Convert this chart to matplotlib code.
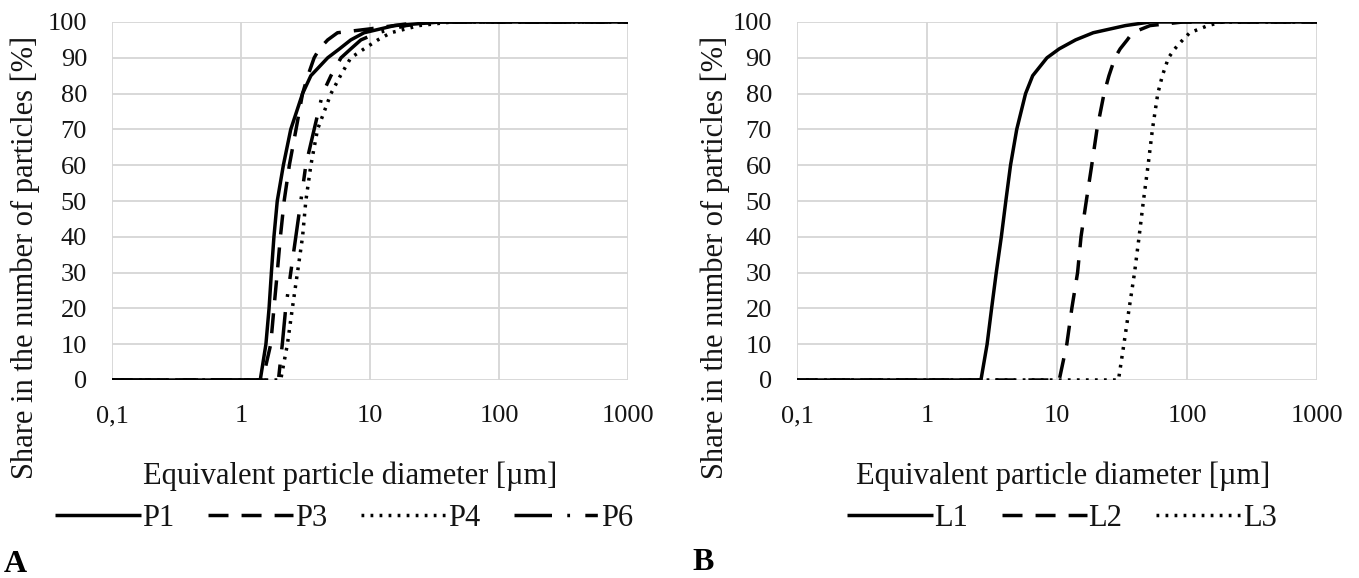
import numpy as np
import matplotlib
matplotlib.use("Agg")
import matplotlib.pyplot as plt

plt.rcParams['font.family'] = ['Liberation Serif', 'DejaVu Serif']
plt.rcParams['lines.scale_dashes'] = False

# panel A : P-samples  (diameter um, cumulative share %)
p1_x = [0.1, 1.41, 1.56, 1.65, 1.72, 1.80, 1.91, 2.13, 2.43, 3.0, 3.48, 4.7, 5.8, 7.1, 9.0, 15.5, 35, 1000]
p1_y = [0, 0, 10, 20, 30, 40, 50, 60, 70, 80, 85, 90, 92.5, 95, 97, 99, 100, 100]
p3_x = [0.1, 1.47, 1.70, 1.80, 1.91, 2.02, 2.16, 2.37, 2.67, 3.0, 3.3, 3.69, 4.05, 4.7, 5.6, 9.6, 19.5, 31, 1000]
p3_y = [0, 0, 10, 20, 30, 40, 50, 60, 70, 80, 85, 90, 92.5, 95, 97, 98, 99.5, 100, 100]
p4_x = [0.1, 2.03, 2.29, 2.5, 2.74, 3.0, 3.18, 3.48, 3.92, 4.98, 5.9, 7.1, 9.0, 11.5, 14.5, 24, 43, 1000]
p4_y = [0, 0, 10, 20, 30, 40, 50, 60, 70, 80, 85, 90, 92.5, 95, 97, 99, 100, 100]
p6_x = [0.1, 1.95, 2.09, 2.22, 2.43, 2.66, 2.91, 3.18, 3.69, 4.29, 4.98, 5.96, 7.1, 8.5, 11.5, 19, 31, 1000]
p6_y = [0, 0, 10, 20, 30, 40, 50, 60, 70, 80, 85, 90, 92.5, 95, 97, 99, 100, 100]

# panel B : L-samples
l1_x = [0.1, 2.60, 2.90, 3.14, 3.41, 3.73, 4.04, 4.39, 4.9, 5.73, 6.5, 8.37, 10.4, 13.9, 19, 33.6, 52, 1000]
l1_y = [0, 0, 10, 20, 30, 40, 50, 60, 70, 80, 85, 90, 92.5, 95, 97, 99, 100, 100]
l2_x = [0.1, 10.4, 11.9, 13.0, 14.4, 15.3, 16.8, 18.5, 20.3, 23, 25.1, 27.9, 30.6, 34.7, 38, 52, 93, 1000]
l2_y = [0, 0, 10, 20, 30, 40, 50, 60, 70, 80, 85, 90, 92.5, 95, 97, 99, 100, 100]
l3_x = [0.1, 29.7, 32.7, 35.9, 39.5, 42.8, 46.2, 50.2, 54.2, 59.6, 64.6, 72, 80.5, 92.7, 105, 145, 186, 1000]
l3_y = [0, 0, 10, 20, 30, 40, 50, 60, 70, 80, 85, 90, 92.5, 95, 97, 99, 100, 100]

xticks = [0.1, 1, 10, 100, 1000]
xlabels = ["0,1", "1", "10", "100", "1000"]
yticks = list(range(0, 101, 10))

solid = (0, ())
dashed = (0, (14.4, 9.4))
dotted = (0, (2, 4.5))
dashdot = (0, (27, 11, 2, 11, 9, 11))

ink = '#141414'
W, H = 1359, 578
fig = plt.figure(figsize=(W / 100, H / 100), dpi=100)

def setup(ax):
    ax.set_xscale('log')
    ax.set_xlim(0.1, 1000)
    ax.set_ylim(0, 100)
    ax.set_xticks(xticks)
    ax.set_xticklabels(xlabels)
    ax.xaxis.set_minor_locator(matplotlib.ticker.NullLocator())
    ax.set_yticks(yticks)
    ax.tick_params(length=0, labelsize=19, colors=ink)
    ax.tick_params(axis='x', pad=18)
    ax.tick_params(axis='y', pad=18)
    for s in ax.spines.values():
        s.set_visible(False)
    ax.grid(True, color='#d6d6d6', linewidth=1.3)
    ax.set_axisbelow(True)

axA = fig.add_axes([112 / W, 1 - 380 / H, 516 / W, 358 / H])
setup(axA)
axA.plot(p1_x, p1_y, color='black', lw=2.5, linestyle=solid, label='P1')
axA.plot(p3_x, p3_y, color='black', lw=2.5, linestyle=dashed, label='P3')
axA.plot(p4_x, p4_y, color='black', lw=2.5, linestyle=dotted, label='P4')
axA.plot(p6_x, p6_y, color='black', lw=2.5, linestyle=dashdot, label='P6')

axB = fig.add_axes([797 / W, 1 - 380 / H, 520 / W, 358 / H])
setup(axB)
axB.plot(l1_x, l1_y, color='black', lw=2.5, linestyle=solid, label='L1')
axB.plot(l2_x, l2_y, color='black', lw=2.5, linestyle=dashed, label='L2')
axB.plot(l3_x, l3_y, color='black', lw=2.5, linestyle=dotted, label='L3')

ylab = "Share in the number of particles [%]"
xlab = "Equivalent particle diameter [\u00b5m]"
fig.text(25 / W, 1 - 257 / H, ylab, rotation=90, ha='center', va='center', fontsize=22, color=ink)
fig.text(715 / W, 1 - 257 / H, ylab, rotation=90, ha='center', va='center', fontsize=22, color=ink)
fig.text(350 / W, 1 - 484 / H, xlab, ha='center', va='baseline', fontsize=22, color=ink)
fig.text(1063 / W, 1 - 484 / H, xlab, ha='center', va='baseline', fontsize=22, color=ink)

for ax, cx in [(axA, 344), (axB, 1062)]:
    ax.legend(loc='center', bbox_to_anchor=(cx / W, 1 - 518 / H), bbox_transform=fig.transFigure,
              ncol=4, frameon=False, fontsize=22, handlelength=2.8, handletextpad=0.05,
              columnspacing=1.1, borderpad=0, labelcolor=ink)

fig.text(15 / W, 1 - 572 / H, "A", ha='center', va='baseline', fontsize=23, fontweight='bold')
fig.text(703 / W, 1 - 570 / H, "B", ha='center', va='baseline', fontsize=23, fontweight='bold')

fig.savefig("out.png", dpi=100)
